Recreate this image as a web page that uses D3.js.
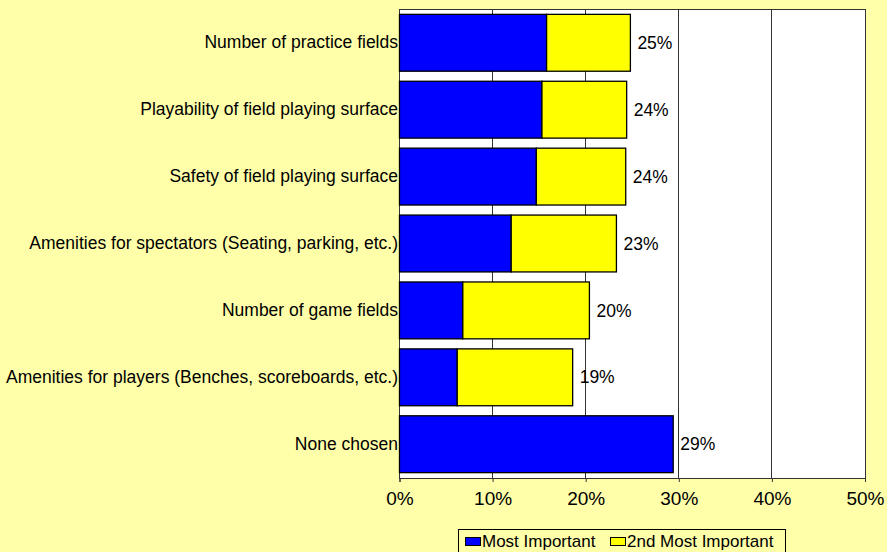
<!DOCTYPE html>
<html><head><meta charset="utf-8">
<script src="https://cdn.jsdelivr.net/npm/d3@7"></script>
<style>body{margin:0;background:#FFFFAA;}svg{display:block;font-family:"Liberation Sans",Arial,sans-serif;}</style>
</head><body>
<svg id="c" width="887" height="552"></svg>
<script>
const categories = ["Number of practice fields","Playability of field playing surface","Safety of field playing surface","Amenities for spectators (Seating, parking, etc.)","Number of game fields","Amenities for players (Benches, scoreboards, etc.)","None chosen"];
const mostImportant = [15.8, 15.3, 14.7, 12.0, 6.8, 6.2, 29.4];
const secondImportant = [9.0, 9.1, 9.6, 11.3, 13.6, 12.4, 0];
const totalLabels = ["25%","24%","24%","23%","20%","19%","29%"];
const xTicks = [0,10,20,30,40,50];
const seriesNames = ["Most Important","2nd Most Important"];
const colors = ["#0000FF","#FFFF00"];

const svg = d3.select("#c");
svg.append("rect").attr("width",887).attr("height",552).attr("fill","#FFFFAA");
const L=399.5,R=865,T=9,B=478;
const x = d3.scaleLinear().domain([0,50]).range([L,R]);
const y = d3.scaleBand().domain(categories).range([T,B]).paddingInner(0.15).paddingOuter(0.08);

svg.append("rect").attr("x",L).attr("y",T).attr("width",R-L).attr("height",B-T).attr("fill","#fff");
// gridlines
svg.append("g").selectAll("line").data(xTicks.slice(1)).join("line")
  .attr("x1",d=>x(d)).attr("x2",d=>x(d)).attr("y1",T).attr("y2",B)
  .attr("stroke","#333").attr("stroke-width",1).attr("shape-rendering","crispEdges");
svg.append("rect").attr("x",L).attr("y",T).attr("width",R-L).attr("height",B-T).attr("fill","none").attr("stroke","#333").attr("shape-rendering","crispEdges");

const g = svg.append("g");
categories.forEach((c,i)=>{
  const a = mostImportant[i], b = secondImportant[i];
  g.append("rect").attr("x",x(0)).attr("y",y(c)).attr("width",x(a)-x(0)).attr("height",y.bandwidth())
    .attr("fill",colors[0]).attr("stroke","#000").attr("stroke-width",1.3);
  if(b>0) g.append("rect").attr("x",x(a)).attr("y",y(c)).attr("width",x(a+b)-x(a)).attr("height",y.bandwidth())
    .attr("fill",colors[1]).attr("stroke","#000").attr("stroke-width",1.3);
  g.append("text").attr("x",x(a+b)+7).attr("y",y(c)+y.bandwidth()/2).attr("dy","0.35em")
    .attr("font-size",17.5).attr("fill","#000").text(totalLabels[i]);
});

// y axis labels
const ya = svg.append("g").attr("transform",`translate(${L},0)`).call(d3.axisLeft(y).tickSize(0).tickPadding(1.5));
ya.select(".domain").remove();
ya.selectAll("text").attr("font-size",17.5).attr("fill","#000").attr("font-family","Liberation Sans, Arial, sans-serif");

// x axis
const xa = svg.append("g").attr("transform",`translate(0,${B})`).call(d3.axisBottom(x).tickValues(xTicks).tickFormat(d=>d+"%").tickSize(4).tickPadding(10));
xa.select(".domain").attr("stroke","#333");
xa.selectAll("line").attr("stroke","#333");
xa.selectAll("text").attr("font-size",19).attr("fill","#000").attr("font-family","Liberation Sans, Arial, sans-serif");

// legend
const lg = svg.append("g");
lg.append("rect").attr("x",458.5).attr("y",529.5).attr("width",327).attr("height",30).attr("fill","#FFFFAA").attr("stroke","#000");
const lx=[465,610];
seriesNames.forEach((n,i)=>{
  lg.append("rect").attr("x",lx[i]+0.5).attr("y",537.5).attr("width",15).attr("height",8).attr("fill",colors[i]).attr("stroke","#000");
  lg.append("text").attr("x",lx[i]+17).attr("y",547).attr("font-size",17).attr("fill","#000").text(n);
});
</script>
</body></html>
